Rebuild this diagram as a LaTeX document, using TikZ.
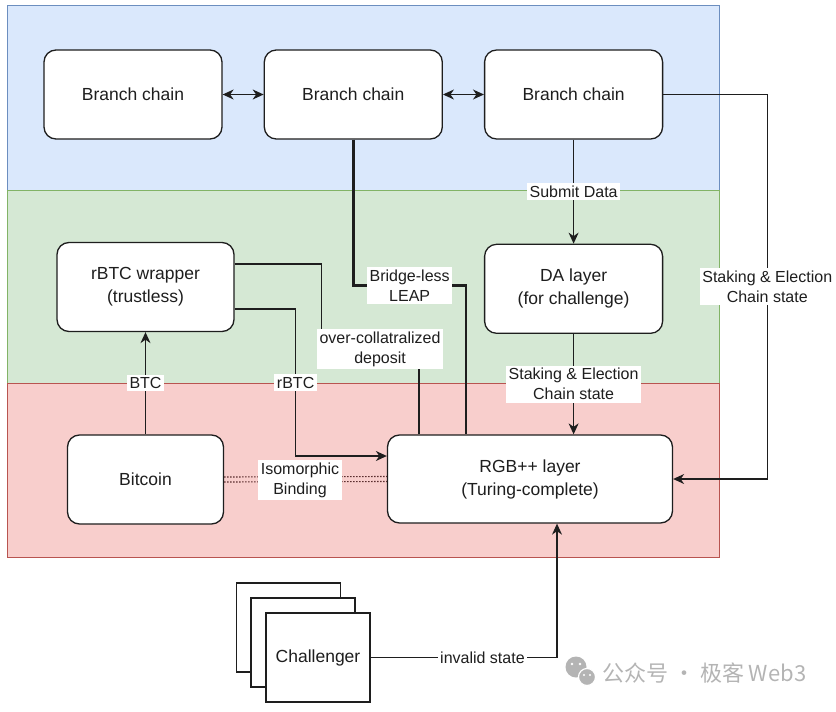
\documentclass[tikz,border=0pt]{standalone}
\usepackage{fontspec}
\setmainfont{Liberation Sans}
\newfontfamily\cjkfont{Noto Sans CJK SC}
\usepackage{tikz}
\usetikzlibrary{arrows}
\usetikzlibrary{arrows.meta}
\usetikzlibrary{calc}
\usetikzlibrary{positioning}

\definecolor{bluebg}{HTML}{DAE8FC}
\definecolor{blueln}{HTML}{6C8EBF}
\definecolor{greenbg}{HTML}{D5E8D4}
\definecolor{greenln}{HTML}{82B366}
\definecolor{redbg}{HTML}{F8CECC}
\definecolor{redln}{HTML}{B85450}
\definecolor{linec}{HTML}{1E1E1E}
\definecolor{dotc}{HTML}{5A2E2E}
\definecolor{wmgray}{HTML}{B4B4B4}

\tikzset{
  chain/.style={draw=linec, fill=white, rounded corners=12pt, line width=1.3pt,
    minimum width=178pt, minimum height=89pt, align=center, text=linec,
    font=\fontsize{17.5}{23}\selectfont},
  card/.style={draw=linec, fill=white, line width=1.3pt, minimum width=104pt,
    minimum height=89pt, text=linec, font=\fontsize{17.5}{23}\selectfont},
  lbl/.style={fill=white, inner sep=2.5pt, align=center, text=linec,
    font=\fontsize{16}{20}\selectfont},
  conn/.style={draw=linec, line width=1.2pt},
  dotline/.style={draw=dotc, line width=1.1pt, dash pattern=on 1.5pt off 1.5pt}
}

\begin{document}
\begin{tikzpicture}[x=1pt, y=-1pt, >={Stealth[length=11pt, width=10pt, inset=3.5pt]}]
        \useasboundingbox (0,0) rectangle (836,712);
        % layers
        \draw[fill=bluebg, draw=blueln, line width=1pt] (7,5) rectangle (719,190);
        \draw[fill=greenbg, draw=greenln, line width=1pt] (7,190) rectangle (719,383);
        \draw[fill=redbg, draw=redln, line width=1pt] (7,383) rectangle (719,557);

        \node[chain] (bc1) at (133,94.5) {Branch chain};
        \node[chain, right=41pt of bc1] (bc2) {Branch chain};
        \node[chain, right=41pt of bc2] (bc3) {Branch chain};
        \node[chain, below=104pt of bc3] (da) {DA layer\\(for challenge)};
        \node[chain, minimum width=177pt] (rbtc) at (145.5,287) {rBTC wrapper\\(trustless)};
        \node[chain, minimum width=156pt] (btc) at (145.5,479.5) {Bitcoin};
        \node[chain, minimum width=285pt, minimum height=88pt] (rgb) at (530,479)
            {RGB++ layer\\(Turing-complete)};

        % challengers
        \node[card] (ch1) at (288.5,627.5) {};
        \node[card] (ch2) at (303,642.5) {};
        \node[card] (ch3) at (318,657.5) {Challenger};

        \draw[conn, <->] (bc1) -- (bc2);
        \draw[conn, <->] (bc2) -- (bc3);
        \draw[conn, ->] (bc3) -- node[lbl] {Submit Data} (da);
        \draw[conn, ->] (da) -- node[lbl] {Staking \& Election\\Chain state} (da |- rgb.north);
        \draw[conn, ->] (bc3.east) -- ++(104,0)
            |- node[lbl, pos=0.25] {Staking \& Election\\Chain state} (rgb.east);
        \draw[conn, line width=2.5pt] (bc2.south) -- ++(0,146)
            -| node[lbl, pos=0.25] {Bridge-less\\LEAP} ([xshift=-64pt]rgb.north);
        \draw[conn] ([yshift=23pt]rbtc.east) -- ++(87,0) -- ++(0,85)
            -| node[lbl, pos=0.3] {over-collatralized\\deposit} ([xshift=-111pt]rgb.north);
        \draw[conn, ->] ([yshift=-22pt]rbtc.east) -- ++(61,0)
            |- node[lbl, pos=0.25] {rBTC} ([yshift=23pt]rgb.west);
        \draw[conn, ->] (btc) -- node[lbl] {BTC} (rbtc);
        \draw[dotline] ([yshift=2.5pt]btc.east) -- ([yshift=2.5pt]rgb.west);
        \draw[dotline] ([yshift=-2.5pt]btc.east) -- ([yshift=-2.5pt]rgb.west);
        \node[lbl] (iso) at (300,480) {Isomorphic\\Binding};
        \draw[conn, ->] (ch3.east) -| node[lbl, pos=0.3] {invalid state} ([xshift=27pt]rgb.south);

        % watermark
        \fill[wmgray] (576,667) circle (10.5);
        \draw[fill=wmgray, draw=white, line width=1.2pt] (587,677) circle (8.5);
        \fill[white] (572,664) circle (1.3) (580,664) circle (1.3);
        \fill[white] (584,675) circle (1.1) (590,675) circle (1.1);
        \node[anchor=west, inner sep=0pt, text=wmgray, font=\cjkfont\fontsize{22}{24}\selectfont]
            (wm) at (602,673) {公众号 · 极客 Web3};
    \end{tikzpicture}
\end{document}
